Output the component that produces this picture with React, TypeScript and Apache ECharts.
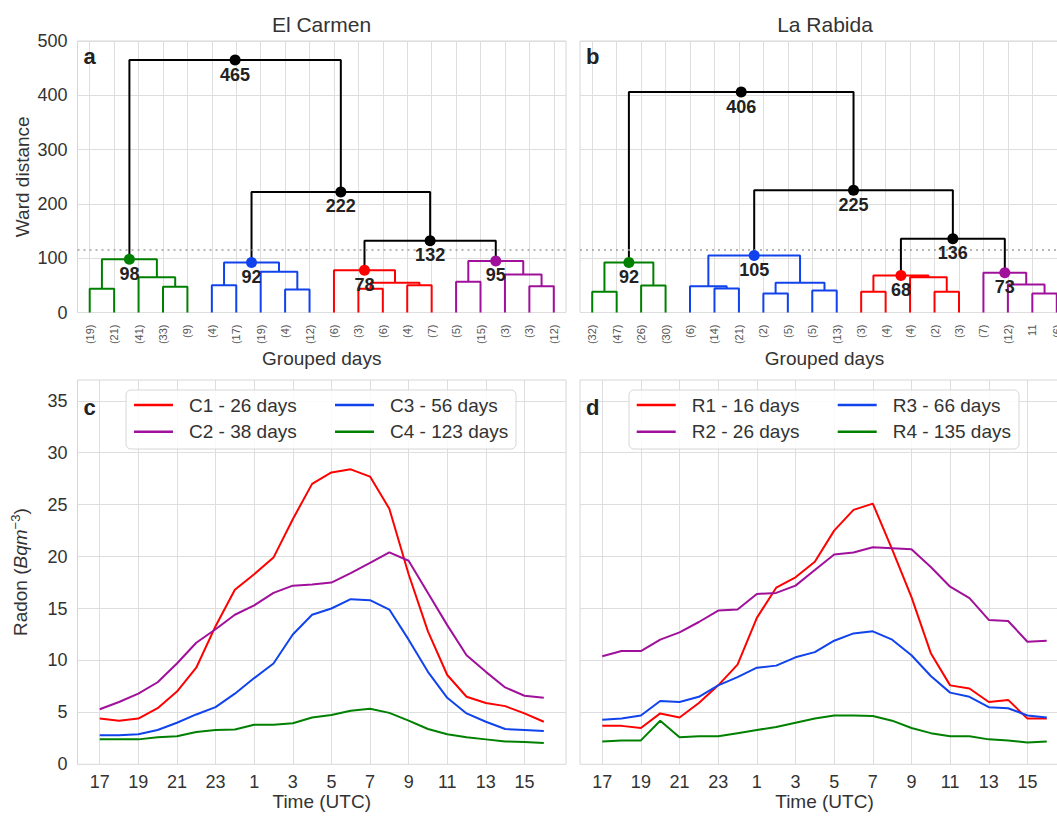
import React, { useEffect, useRef } from "react";
import * as echarts from "echarts";

// ---------- DATA ----------
const leftLeafLabels = ["(19)", "(21)", "(41)", "(33)", "(9)", "(4)", "(17)", "(19)", "(4)", "(12)", "(6)", "(3)", "(6)", "(4)", "(7)", "(5)", "(15)", "(3)", "(3)", "(12)"];
const rightLeafLabels = ["(32)", "(47)", "(26)", "(30)", "(6)", "(14)", "(21)", "(2)", "(5)", "(5)", "(13)", "(3)", "(4)", "(4)", "(2)", "(3)", "(7)", "(12)", "11", "(6)"];

// linkage rows: [childA, childB, ward distance, colour key]; leaves are 0..19, merge k gets id 20+k
const leftLinkage: [number, number, number, string][] = [
  [0, 1, 43.7, "g"], [3, 4, 47.4, "g"], [2, 21, 65, "g"], [20, 22, 98, "g"],
  [5, 6, 50.4, "b"], [8, 9, 42.4, "b"], [7, 25, 75, "b"], [24, 26, 92, "b"],
  [11, 12, 43.7, "r"], [13, 14, 50, "r"], [28, 29, 55, "r"], [10, 30, 78, "r"],
  [15, 16, 56.6, "m"], [18, 19, 48.5, "m"], [17, 33, 70, "m"], [32, 34, 95, "m"],
  [31, 35, 132, "k"], [27, 36, 222, "k"], [23, 37, 465, "k"],
];
const leftMarkedNodes = [23, 27, 31, 35, 36, 37, 38];

const rightLinkage: [number, number, number, string][] = [
  [0, 1, 38.2, "g"], [2, 3, 49.8, "g"], [20, 21, 92, "g"],
  [5, 6, 44.3, "b"], [4, 23, 48.5, "b"], [7, 8, 35, "b"], [9, 10, 40.6, "b"], [25, 26, 55, "b"], [24, 27, 105, "b"],
  [11, 12, 38, "r"], [14, 15, 38, "r"], [13, 30, 65, "r"], [29, 31, 68, "r"],
  [18, 19, 35, "m"], [17, 33, 51.7, "m"], [16, 34, 73, "m"],
  [32, 35, 136, "k"], [28, 36, 225, "k"], [22, 37, 406, "k"],
];
const rightMarkedNodes = [22, 28, 32, 35, 36, 37, 38];

const cutHeight = 115;

const hours = [17, 18, 19, 20, 21, 22, 23, 0, 1, 2, 3, 4, 5, 6, 7, 8, 9, 10, 11, 12, 13, 14, 15, 16];
const hourTicks = [17, 19, 21, 23, 1, 3, 5, 7, 9, 11, 13, 15];

const c1 = [4.4, 4.2, 4.4, 5.4, 7.0, 9.3, 13.3, 16.8, 18.3, 19.9, 23.6, 27.0, 28.1, 28.4, 27.7, 24.6, 18.3, 12.8, 8.6, 6.5, 5.9, 5.6, 4.9, 4.1];
const c2 = [5.3, 6.0, 6.8, 7.9, 9.7, 11.7, 13.0, 14.4, 15.3, 16.5, 17.2, 17.3, 17.5, 18.4, 19.4, 20.4, 19.6, 16.5, 13.4, 10.5, 8.9, 7.4, 6.6, 6.4];
const c3 = [2.8, 2.8, 2.9, 3.3, 4.0, 4.8, 5.5, 6.8, 8.3, 9.7, 12.5, 14.4, 15.0, 15.9, 15.8, 14.9, 12.0, 8.9, 6.4, 4.9, 4.1, 3.4, 3.3, 3.2];
const c4 = [2.4, 2.4, 2.4, 2.6, 2.7, 3.1, 3.3, 3.35, 3.8, 3.8, 3.95, 4.5, 4.75, 5.15, 5.35, 4.95, 4.2, 3.4, 2.9, 2.6, 2.4, 2.2, 2.15, 2.05];

const r1 = [3.7, 3.7, 3.5, 4.9, 4.5, 5.9, 7.6, 9.6, 14.1, 17.0, 18.0, 19.5, 22.5, 24.5, 25.1, 20.7, 16.1, 10.7, 7.6, 7.3, 6.0, 6.2, 4.4, 4.4];
const r2 = [10.4, 10.9, 10.9, 12.0, 12.7, 13.7, 14.8, 14.9, 16.4, 16.5, 17.2, 18.7, 20.2, 20.4, 20.9, 20.8, 20.7, 19.0, 17.1, 16.0, 13.9, 13.8, 11.8, 11.9];
const r3 = [4.3, 4.4, 4.7, 6.1, 6.0, 6.5, 7.6, 8.4, 9.3, 9.5, 10.3, 10.8, 11.9, 12.6, 12.8, 12.0, 10.5, 8.5, 6.9, 6.5, 5.5, 5.4, 4.7, 4.5];
const r4 = [2.2, 2.3, 2.3, 4.2, 2.6, 2.7, 2.7, 3.0, 3.3, 3.6, 4.0, 4.4, 4.7, 4.7, 4.65, 4.2, 3.5, 3.0, 2.7, 2.7, 2.4, 2.3, 2.1, 2.2];

const leftNames = ["C1 - 26 days", "C2 - 38 days", "C3 - 56 days", "C4 - 123 days"];
const rightNames = ["R1 - 16 days", "R2 - 26 days", "R3 - 66 days", "R4 - 135 days"];

// ---------- STYLE ----------
const COLORS: Record<string, string> = { g: "#008000", b: "#1043ec", r: "#ff0000", m: "#a0109a", k: "#000000" };
const FONT = "'Liberation Sans', Arial, sans-serif";
const TXT = "#333333";
const GRIDC = "#dedede";

const G_TOP = { top: 41, height: 271.5 };
const G_BOT = { top: 380, height: 384.3 };
const G_L = { left: 77.5, width: 488.5 };
const G_R = { left: 580, width: 489 };

const leafTicks = Array.from({ length: 20 }, (_, i) => 5 + 10 * i);
const hourTickIdx = hourTicks.map((h) => hours.indexOf(h));

function dendro(link: [number, number, number, string][], n: number, marked: number[], axis: number) {
  const xs: number[] = [];
  const ys: number[] = [];
  for (let i = 0; i < n; i++) {
    xs.push(leafTicks[i]);
    ys.push(0);
  }
  const segs: Record<string, any[]> = {};
  const col: string[] = [];
  link.forEach(([a, b, h, c]) => {
    xs.push((xs[a] + xs[b]) / 2);
    ys.push(h);
    col.push(c);
    (segs[c] = segs[c] || []).push([xs[a], ys[a]], [xs[a], h], [xs[b], h], [xs[b], ys[b]], ["-", "-"]);
  });
  const out: any[] = Object.keys(segs).map((c) => ({
    type: "line",
    name: "link-" + axis + c,
    xAxisIndex: axis,
    yAxisIndex: axis,
    data: segs[c],
    showSymbol: false,
    symbol: "none",
    connectNulls: false,
    silent: true,
    lineStyle: { color: COLORS[c], width: 2 },
    z: 2,
  }));
  out.push({
    type: "scatter",
    xAxisIndex: axis,
    yAxisIndex: axis,
    symbolSize: 11,
    silent: true,
    z: 5,
    itemStyle: { opacity: 1 },
    data: marked.map((id) => ({ value: [xs[id], ys[id]], itemStyle: { color: COLORS[col[id - n]], opacity: 1 } })),
    label: {
      show: true,
      position: "bottom",
      distance: 0,
      fontFamily: FONT,
      fontWeight: "bold",
      fontSize: 18,
      color: "#222222",
      opacity: 1,
      formatter: (p: any) => String(p.value[1]),
    },
    markLine: {
      silent: true,
      symbol: "none",
      label: { show: false },
      lineStyle: { color: "#a0a0a0", type: [2, 4], width: 1.5 },
      data: [{ yAxis: cutHeight }],
    },
  });
  return out;
}

function radonSeries(name: string, vals: number[], color: string, axis: number) {
  return {
    type: "line",
    name,
    xAxisIndex: axis,
    yAxisIndex: axis,
    data: vals.map((v, i) => [i, v]),
    showSymbol: false,
    symbol: "none",
    lineStyle: { color, width: 2 },
    itemStyle: { color },
    z: 2,
  };
}

function topX(labels: string[], showName: boolean) {
  return {
    type: "value",
    gridIndex: 0,
    min: 0,
    max: 200,
    axisLine: { show: false },
    axisTick: { show: false, customValues: leafTicks },
    axisLabel: {
      customValues: leafTicks,
      rotate: 90,
      margin: 12,
      fontSize: 11,
      color: "#555",
      fontFamily: FONT,
      formatter: (v: number) => labels[Math.round((v - 5) / 10)] ?? "",
    },
    splitLine: { show: true, lineStyle: { color: GRIDC, width: 1 } },
    name: showName ? "Grouped days" : "",
    nameLocation: "middle",
    nameGap: 36,
    nameMoveOverlap: false,
    nameTextStyle: { fontSize: 19, color: TXT, fontFamily: FONT },
  };
}

function botX() {
  return {
    type: "value",
    min: -1.15,
    max: 24.15,
    axisLine: { show: false },
    axisTick: { show: false, customValues: hourTickIdx },
    axisLabel: {
      customValues: hourTickIdx,
      margin: 9,
      fontSize: 18,
      color: TXT,
      fontFamily: FONT,
      formatter: (v: number) => String(hours[Math.round(v)]),
    },
    splitLine: { show: true, lineStyle: { color: GRIDC, width: 1 } },
    name: "Time (UTC)",
    nameLocation: "middle",
    nameGap: 28,
    nameMoveOverlap: false,
    nameTextStyle: { fontSize: 19, color: TXT, fontFamily: FONT },
  };
}

const radonTicks = [0, 5, 10, 15, 20, 25, 30, 35];

function legendCols(names: string[], x1: number, x2: number) {
  const base = {
    orient: "vertical",
    top: 395.5,
    padding: 0,
    itemGap: 7.7,
    itemWidth: 39,
    itemHeight: 2.5,
    icon: "rect",
    z: 8,
    textStyle: { fontSize: 19, color: TXT, fontFamily: FONT, padding: [0, 0, 0, 11] },
    selectedMode: false,
  };
  return [
    { ...base, left: x1, data: [names[0], names[1]] },
    { ...base, left: x2, data: [names[2], names[3]] },
  ];
}

function legendBox(x: number) {
  return {
    type: "rect",
    z: 6,
    shape: { x, y: 390, width: 390, height: 59, r: 5 },
    style: { fill: "rgba(255,255,255,0.85)", stroke: "#d6d6d6", lineWidth: 1 },
  };
}

function letter(t: string, x: number, y: number) {
  return {
    type: "text",
    z: 7,
    x,
    y,
    style: { text: t, fontSize: 22, fontWeight: "bold", fill: "#222222", fontFamily: FONT, textVerticalAlign: "middle" },
  };
}

function title(t: string, x: number) {
  return {
    type: "text",
    x,
    y: 24,
    style: { text: t, fontSize: 21, fill: TXT, fontFamily: FONT, textAlign: "center", textVerticalAlign: "middle" },
  };
}

const option: any = {
  animation: false,
  backgroundColor: "#ffffff",
  textStyle: { fontFamily: FONT },
  grid: [
    { ...G_L, ...G_TOP },
    { ...G_R, ...G_TOP },
    { ...G_L, ...G_BOT },
    { ...G_R, ...G_BOT },
  ].map((g) => ({ ...g, show: true, borderColor: "#d6d6d6", borderWidth: 1, backgroundColor: "transparent", containLabel: false, outerBoundsMode: "none" })),
  xAxis: [
    { ...topX(leftLeafLabels, true), gridIndex: 0 },
    { ...topX(rightLeafLabels, true), gridIndex: 1 },
    { ...botX(), gridIndex: 2 },
    { ...botX(), gridIndex: 3 },
  ],
  yAxis: [0, 1].map((i) => ({
    type: "value",
    gridIndex: i,
    min: 0,
    max: 500,
    interval: 100,
    axisLine: { show: false },
    axisTick: { show: false },
    axisLabel: { show: i === 0, margin: 10, fontSize: 18, color: TXT, fontFamily: FONT },
    splitLine: { show: true, lineStyle: { color: GRIDC, width: 1 } },
    name: i === 0 ? "Ward distance" : "",
    nameLocation: "middle",
    nameGap: 46,
    nameMoveOverlap: false,
    nameTextStyle: { fontSize: 19, color: TXT, fontFamily: FONT },
  })).concat(
    [2, 3].map((i) => ({
      type: "value",
      gridIndex: i,
      min: 0,
      max: 37,
      axisLine: { show: false },
      axisTick: { show: false, customValues: radonTicks },
      axisLabel: { show: i === 2, customValues: radonTicks, margin: 10, fontSize: 18, color: TXT, fontFamily: FONT },
      splitLine: { show: true, lineStyle: { color: GRIDC, width: 1 } },
      name: i === 2 ? "Radon ({i|Bqm}{s|−3})" : "",
      nameLocation: "middle",
      nameGap: 46,
      nameMoveOverlap: false,
      nameTextStyle: {
        fontSize: 19,
        color: TXT,
        fontFamily: FONT,
        rich: {
          i: { fontSize: 19, fontStyle: "italic", color: TXT, fontFamily: FONT },
          s: { fontSize: 13, color: TXT, fontFamily: FONT, padding: [0, 0, 10, 0] },
        },
      },
    }))
  ),
  legend: [...legendCols(leftNames, 134, 335), ...legendCols(rightNames, 636.7, 837.7)],
  graphic: [
    title("El Carmen", 321.5),
    title("La Rabida", 825),
    letter("a", 83.5, 56),
    letter("b", 586, 56),
    letter("c", 83.5, 407),
    letter("d", 586, 407),
    legendBox(126),
    legendBox(629),
  ],
  series: [
    ...dendro(leftLinkage, 20, leftMarkedNodes, 0),
    ...dendro(rightLinkage, 20, rightMarkedNodes, 1),
    radonSeries(leftNames[0], c1, COLORS.r, 2),
    radonSeries(leftNames[1], c2, COLORS.m, 2),
    radonSeries(leftNames[2], c3, COLORS.b, 2),
    radonSeries(leftNames[3], c4, COLORS.g, 2),
    radonSeries(rightNames[0], r1, COLORS.r, 3),
    radonSeries(rightNames[1], r2, COLORS.m, 3),
    radonSeries(rightNames[2], r3, COLORS.b, 3),
    radonSeries(rightNames[3], r4, COLORS.g, 3),
  ],
};

export default function App() {
  const ref = useRef<HTMLDivElement>(null);
  useEffect(() => {
    if (!ref.current) return;
    const chart = echarts.init(ref.current, undefined, { renderer: "svg" });
    chart.setOption(option);
    return () => chart.dispose();
  }, []);
  return (
    <div
      ref={ref}
      style={{ position: "absolute", left: 0, top: 0, width: 1057, height: 816, overflow: "hidden", background: "#fff" }}
    />
  );
}
